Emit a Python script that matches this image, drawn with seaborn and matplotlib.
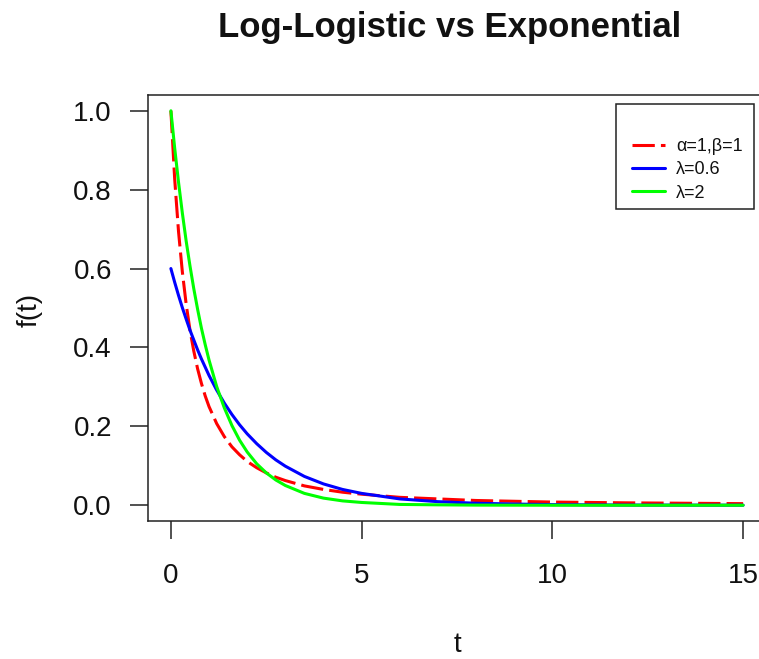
import matplotlib
matplotlib.use("Agg")
import matplotlib.pyplot as plt
import seaborn as sns
import pandas as pd
from matplotlib.patches import Rectangle

# ---- data ----
t_values = [0, 0.1, 0.2, 0.3, 0.4, 0.5, 0.6, 0.7, 0.8, 0.9, 1.0, 1.2, 1.4, 1.6, 1.8,
            2.0, 2.25, 2.5, 2.75, 3.0, 3.5, 4.0, 4.5, 5.0, 6.0, 7.0, 8.0, 9.0, 10.0,
            12.0, 15.0]
loglogistic = [1.000, 0.826, 0.694, 0.592, 0.510, 0.444, 0.391, 0.346, 0.309, 0.277,
               0.250, 0.207, 0.174, 0.148, 0.128, 0.111, 0.095, 0.082, 0.071, 0.0625,
               0.049, 0.040, 0.033, 0.028, 0.020, 0.016, 0.012, 0.010, 0.008, 0.006,
               0.004]
exp_06 = [0.600, 0.565, 0.532, 0.501, 0.472, 0.444, 0.419, 0.394, 0.371, 0.350,
          0.329, 0.292, 0.259, 0.230, 0.204, 0.181, 0.156, 0.134, 0.115, 0.099,
          0.073, 0.054, 0.040, 0.030, 0.016, 0.009, 0.005, 0.003, 0.0015, 0.0004,
          0.0001]
exp_2 = [1.000, 0.905, 0.819, 0.741, 0.670, 0.607, 0.549, 0.497, 0.449, 0.407,
         0.368, 0.301, 0.247, 0.202, 0.165, 0.135, 0.105, 0.082, 0.064, 0.050,
         0.030, 0.018, 0.011, 0.007, 0.002, 0.001, 0.0003, 0.0001, 0.0, 0.0, 0.0]
series_labels = ["α=1,β=1", "λ=0.6", "λ=2"]
x_ticks = [0, 5, 10, 15]
y_ticks = [0.0, 0.2, 0.4, 0.6, 0.8, 1.0]
title = "Log-Logistic vs Exponential"

df = pd.concat([
    pd.DataFrame({"t": t_values, "f": vals, "series": lab})
    for vals, lab in zip([loglogistic, exp_06, exp_2], series_labels)
], ignore_index=True)

sns.set_style("ticks")
plt.rcParams["font.family"] = ["Liberation Sans", "DejaVu Sans"]

W, H = 759, 659
fig = plt.figure(figsize=(W / 100, H / 100), dpi=100)
L, R, T, B = 148, 766, 95, 521
ax = fig.add_axes([L / W, 1 - B / H, (R - L) / W, (B - T) / H])

palette = {series_labels[0]: "#FF0000", series_labels[1]: "#0000FF", series_labels[2]: "#00FF00"}
dashes = {series_labels[0]: (7.3, 2.0), series_labels[1]: "", series_labels[2]: ""}
sns.lineplot(data=df, x="t", y="f", hue="series", style="series",
             palette=palette, dashes=dashes, linewidth=2.2, ax=ax, legend=False,
             hue_order=series_labels, style_order=series_labels)

ax.set_xlim(-0.6, 15.6)
ax.set_ylim(-0.04, 1.04)
ax.set_xticks(x_ticks)
ax.set_xticklabels([str(v) for v in x_ticks])
ax.set_yticks(y_ticks)
ax.set_yticklabels([f"{v:.1f}" for v in y_ticks])
ax.set_xlabel("")
ax.set_ylabel("")
ax.tick_params(axis="both", length=13, width=1.1, color="#222222", labelsize=20,
               labelcolor="#111111")
ax.tick_params(axis="y", pad=13)
ax.tick_params(axis="x", pad=17)
for s in ax.spines.values():
    s.set_linewidth(1.1)
    s.set_color("#222222")
    s.set_visible(True)

fig.text(450 / W, 1 - 37 / H, title, ha="center", va="baseline",
         fontsize=25, fontweight="bold", color="#111111")
fig.text(30 / W, 1 - 310 / H, "f(t)", ha="center", va="center", rotation=90,
         fontsize=20, color="#111111")
fig.text(457 / W, 1 - 645 / H, "t", ha="center", va="center",
         fontsize=20, color="#111111")

# legend
handles = ax.get_lines()[:3]
leg = ax.legend(handles, series_labels, loc="upper left",
                bbox_to_anchor=(632 / W, 1 - 138 / H), bbox_transform=fig.transFigure,
                frameon=False, fontsize=13, handlelength=1.85, handletextpad=0.6,
                labelspacing=0.35, borderpad=0, borderaxespad=0)
for txt in leg.get_texts():
    txt.set_color("#111111")
fig.patches.append(Rectangle((616 / W, 1 - 209 / H), (754 - 616) / W, (209 - 104) / H,
                             transform=fig.transFigure, fill=False,
                             edgecolor="#222222", linewidth=1.1))

fig.savefig("out.png", dpi=100)
